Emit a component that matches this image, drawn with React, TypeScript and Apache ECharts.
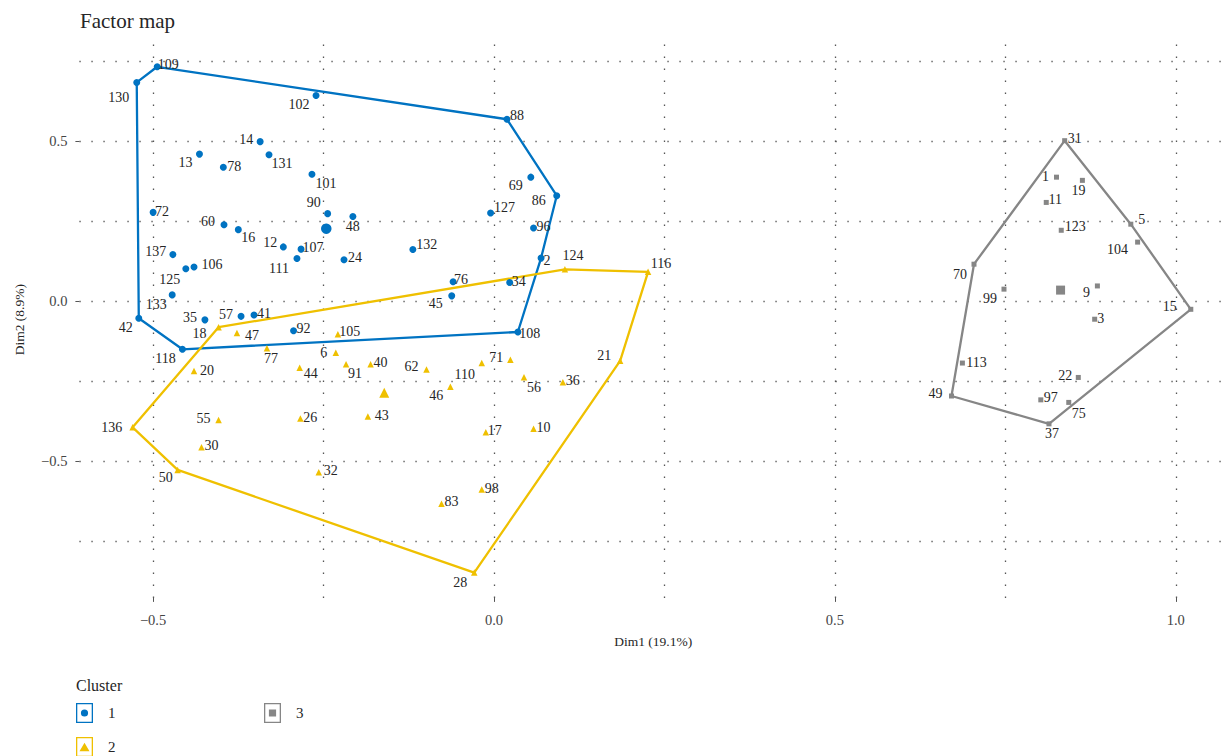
import React, { useEffect, useRef } from "react";
import * as echarts from "echarts";

// ---- Individuals on the first factorial plane, grouped by cluster ----
const cluster1Ids = ["130", "109", "102", "14", "13", "131", "78", "101", "72", "60", "16", "90", "48", "12", "107", "111", "24", "137", "125", "106", "133", "35", "57", "41", "92", "42", "118", "88", "69", "86", "127", "96", "132", "2", "76", "34", "45", "108"];
const cluster1Dim1 = [-0.524, -0.494, -0.261, -0.343, -0.432, -0.330, -0.397, -0.267, -0.500, -0.396, -0.375, -0.244, -0.207, -0.309, -0.283, -0.289, -0.220, -0.471, -0.452, -0.440, -0.472, -0.424, -0.371, -0.352, -0.294, -0.521, -0.457, 0.019, 0.054, 0.092, -0.005, 0.058, -0.119, 0.069, -0.060, 0.023, -0.062, 0.035];
const cluster1Dim2 = [0.684, 0.733, 0.643, 0.499, 0.460, 0.458, 0.419, 0.397, 0.278, 0.239, 0.224, 0.274, 0.265, 0.170, 0.163, 0.134, 0.130, 0.146, 0.102, 0.107, 0.020, -0.058, -0.047, -0.043, -0.092, -0.053, -0.150, 0.569, 0.388, 0.330, 0.276, 0.229, 0.162, 0.135, 0.061, 0.059, 0.017, -0.096];

const cluster2Ids = ["18", "47", "77", "105", "6", "20", "44", "91", "40", "136", "55", "26", "43", "30", "50", "32", "124", "116", "21", "62", "46", "110", "71", "56", "36", "17", "10", "98", "83", "28"];
const cluster2Dim1 = [-0.404, -0.377, -0.333, -0.229, -0.232, -0.440, -0.285, -0.217, -0.181, -0.530, -0.404, -0.284, -0.185, -0.429, -0.464, -0.257, 0.104, 0.226, 0.185, -0.099, -0.064, -0.018, 0.024, 0.044, 0.101, -0.012, 0.058, -0.018, -0.077, -0.029];
const cluster2Dim2 = [-0.081, -0.099, -0.147, -0.103, -0.161, -0.218, -0.208, -0.197, -0.197, -0.394, -0.371, -0.366, -0.360, -0.456, -0.527, -0.534, 0.100, 0.092, -0.186, -0.213, -0.267, -0.193, -0.183, -0.237, -0.253, -0.409, -0.398, -0.588, -0.633, -0.848];

const cluster3Ids = ["31", "1", "19", "11", "123", "5", "104", "70", "99", "9", "15", "3", "113", "22", "49", "97", "75", "37"];
const cluster3Dim1 = [0.837, 0.825, 0.863, 0.810, 0.832, 0.934, 0.944, 0.704, 0.748, 0.885, 1.022, 0.881, 0.687, 0.857, 0.671, 0.802, 0.843, 0.814];
const cluster3Dim2 = [0.502, 0.388, 0.378, 0.309, 0.222, 0.241, 0.185, 0.116, 0.038, 0.048, -0.025, -0.056, -0.193, -0.238, -0.296, -0.308, -0.316, -0.383];

// Cluster centres
const centerDim1 = [-0.246, -0.161, 0.831];
const centerDim2 = [0.227, -0.286, 0.035];

const clusterNames = ["1", "2", "3"];
const clusterColors = ["#0073C2", "#EFC000", "#868686"];

// Axis ticks and the dotted reference grid
const xTickValues = [-0.5, 0, 0.5, 1.0];
const yTickValues = [-0.5, 0, 0.5];
const xGridValues = [-0.5, -0.25, 0, 0.25, 0.5, 0.75, 1.0];
const yGridValues = [-0.75, -0.5, -0.25, 0, 0.25, 0.5, 0.75];

// ---- Layout / styling ----
const FONT = "Liberation Serif";
const X_MIN = -0.6081;
const X_MAX = 1.0751;
const Y_MIN = -0.927;
const Y_MAX = 0.812;

// Text placement of each point label relative to its marker, in pixels
const labelNudge: Record<string, [number, number]> = {
  "130": [-18, 15], "109": [11, -2], "102": [-17, 9], "14": [-14, -2], "13": [-14, 8],
  "131": [13, 9], "78": [11, -1], "101": [14, 9], "72": [9, -1], "60": [-16, -3],
  "16": [10, 8], "90": [-14, -11], "48": [0, 10], "12": [-13, -4], "107": [12, -2],
  "111": [-18, 10], "24": [11, -2], "137": [-17, -3], "125": [-16, 11], "106": [18, -3],
  "133": [-16, 10], "35": [-15, -2], "57": [-15, -2], "41": [10, -2], "92": [10, -2],
  "42": [-13, 9], "118": [-17, 9], "88": [10, -4], "69": [-15, 8], "86": [-18, 5],
  "127": [14, -5], "96": [10, -2], "132": [14, -5], "2": [6, 2], "76": [8, -2],
  "34": [9, -1], "45": [-16, 8], "108": [12, 1],
  "18": [-19, 6], "47": [15, 3], "77": [4, 10], "105": [12, -3], "6": [-12, 0],
  "20": [13, -1], "44": [11, 6], "91": [9, 9], "40": [10, -2], "136": [-21, 0],
  "55": [-15, -2], "26": [10, -1], "43": [14, -1], "30": [10, -2], "50": [-12, 8],
  "32": [12, -2], "124": [8, -14], "116": [13, -8], "21": [-16, -5], "62": [-15, -3],
  "46": [-14, 9], "110": [-17, 11], "71": [-14, -2], "56": [10, 10], "36": [10, -2],
  "17": [9, -2], "10": [10, -1], "98": [10, -1], "83": [10, -2], "28": [-14, 10],
  "31": [10, -2], "1": [-11, -1], "19": [-4, 10], "11": [9, -3], "123": [14, -4],
  "5": [11, -5], "104": [-20, 7], "70": [-14, 10], "99": [-14, 9], "9": [-11, 7],
  "15": [-21, -3], "3": [6, -1], "113": [14, -1], "22": [-13, -2], "49": [-16, -3],
  "97": [10, -2], "75": [10, 11], "37": [3, 10],
};

const markerShape = ["circle", "triangle", "rect"];
const markerSize = [7, 6.5, 5];
const centerSize = [10.5, 10, 9];

// Legend keys: framed box with the cluster's marker inside
const legendIcons = [
  "path://M0,0H85V100H0ZM6.5,6.5V93.5H78.5V6.5ZM42.5,32A18,18,0,1,1,42.5,68A18,18,0,1,1,42.5,32Z",
  "path://M0,0H85V100H0ZM6.5,6.5V93.5H78.5V6.5ZM42.5,29L67.5,71L17.5,71Z",
  "path://M0,0H85V100H0ZM6.5,6.5V93.5H78.5V6.5ZM24.5,32H60.5V68H24.5Z",
];
const legendSpots = [
  { left: 76, top: 703 },
  { left: 76, top: 737 },
  { left: 264, top: 703 },
];

function convexHull(points: number[][]): number[][] {
  const p = points.slice().sort((a, b) => a[0] - b[0] || a[1] - b[1]);
  const cross = (o: number[], a: number[], b: number[]) =>
    (a[0] - o[0]) * (b[1] - o[1]) - (a[1] - o[1]) * (b[0] - o[0]);
  const lower: number[][] = [];
  for (const q of p) {
    while (lower.length >= 2 && cross(lower[lower.length - 2], lower[lower.length - 1], q) <= 0) lower.pop();
    lower.push(q);
  }
  const upper: number[][] = [];
  for (let i = p.length - 1; i >= 0; i--) {
    const q = p[i];
    while (upper.length >= 2 && cross(upper[upper.length - 2], upper[upper.length - 1], q) <= 0) upper.pop();
    upper.push(q);
  }
  upper.pop();
  lower.pop();
  return lower.concat(upper);
}

const fmtTick = (v: number) => (v < 0 ? "\u2212" : "") + Math.abs(v).toFixed(1);

function buildOption() {
  const clusters = [
    { ids: cluster1Ids, d1: cluster1Dim1, d2: cluster1Dim2 },
    { ids: cluster2Ids, d1: cluster2Dim1, d2: cluster2Dim2 },
    { ids: cluster3Ids, d1: cluster3Dim1, d2: cluster3Dim2 },
  ];

  const series: any[] = [];

  // dotted reference lines
  series.push({
    type: "scatter",
    name: "grid",
    data: [],
    silent: true,
    markLine: {
      silent: true,
      z: 1,
      symbol: ["none", "none"],
      label: { show: false },
      emphasis: { disabled: true },
      lineStyle: { color: "#555", width: 1.3, type: [1.3, 10.7], opacity: 1 },
      data: [
        ...xGridValues.map((v) => ({ xAxis: v })),
        ...yGridValues.map((v) => ({ yAxis: v })),
      ],
    },
  });

  clusters.forEach((c, k) => {
    const pts = c.ids.map((_, i) => [c.d1[i], c.d2[i]]);
    const hull = convexHull(pts);
    series.push({
      type: "line",
      name: clusterNames[k],
      data: hull.concat([hull[0]]),
      symbol: "none",
      silent: true,
      z: 2,
      lineStyle: { color: clusterColors[k], width: 2.3 },
      itemStyle: { color: clusterColors[k] },
    });
  });

  clusters.forEach((c, k) => {
    const data: any[] = c.ids.map((id, i) => ({
      name: id,
      value: [c.d1[i], c.d2[i]],
    }));
    data.push({
      name: "",
      value: [centerDim1[k], centerDim2[k]],
      symbolSize: centerSize[k],
      label: { show: false },
    });
    series.push({
      type: "scatter",
      name: clusterNames[k],
      symbol: markerShape[k],
      symbolSize: markerSize[k],
      z: 3,
      silent: true,
      itemStyle: { color: clusterColors[k], opacity: 1 },
      label: {
        show: true,
        formatter: "{b}",
        position: "inside",
        align: "center",
        verticalAlign: "middle",
        fontFamily: FONT,
        fontSize: 14,
        color: "#262626",
      },
      labelLayout: (p: any) => {
        const id = c.ids[p.dataIndex];
        const n = id !== undefined ? labelNudge[id] : undefined;
        return n ? { dx: n[0], dy: n[1], hideOverlap: false } : {};
      },
      data,
    });
  });

  const legendText = {
    fontFamily: FONT,
    fontSize: 15,
    color: "#262626",
    padding: [0, 0, 0, 10],
  };

  return {
    animation: false,
    textStyle: { fontFamily: FONT },
    title: [
      {
        text: "Factor map",
        left: 80,
        top: 10.5,
        padding: 0,
        textStyle: { fontFamily: FONT, fontSize: 21, fontWeight: "normal", color: "#262626" },
      },
      {
        text: "Cluster",
        left: 76,
        top: 677.5,
        padding: 0,
        textStyle: { fontFamily: FONT, fontSize: 16, fontWeight: "normal", color: "#262626" },
      },
    ],
    legend: clusterNames.map((name, k) => ({
      data: [{ name, icon: legendIcons[k] }],
      orient: "vertical",
      left: legendSpots[k].left,
      top: legendSpots[k].top,
      padding: 0,
      itemWidth: 17,
      itemHeight: 20,
      selectedMode: false,
      textStyle: legendText,
    })),
    grid: {
      left: 79.4,
      top: 41.5,
      width: 1147.6,
      height: 556.4,
      containLabel: false,
      outerBoundsMode: "none",
    },
    xAxis: {
      type: "value",
      min: X_MIN,
      max: X_MAX,
      axisLine: { show: false, onZero: false },
      axisTick: { show: true, customValues: xTickValues, length: 4, lineStyle: { color: "#555" } },
      axisLabel: {
        customValues: xTickValues,
        formatter: fmtTick,
        margin: 15,
        fontFamily: FONT,
        fontSize: 14.5,
        color: "#444",
      },
      splitLine: { show: false },
      name: "Dim1 (19.1%)",
      nameLocation: "middle",
      nameGap: 37,
      nameTextStyle: { fontFamily: FONT, fontSize: 13.5, color: "#262626" },
    },
    yAxis: {
      type: "value",
      min: Y_MIN,
      max: Y_MAX,
      axisLine: { show: false, onZero: false },
      axisTick: { show: true, customValues: yTickValues, length: 4, lineStyle: { color: "#555" } },
      axisLabel: {
        customValues: yTickValues,
        formatter: fmtTick,
        margin: 12,
        fontFamily: FONT,
        fontSize: 14.5,
        color: "#444",
      },
      splitLine: { show: false },
      name: "Dim2 (8.9%)",
      nameLocation: "middle",
      nameGap: 53,
      nameTextStyle: { fontFamily: FONT, fontSize: 13.5, color: "#262626" },
    },
    series,
  };
}

export default function App() {
  const ref = useRef<HTMLDivElement>(null);
  useEffect(() => {
    document.body.style.margin = "0";
    document.body.style.overflow = "hidden";
    if (!ref.current) return;
    const chart = echarts.init(ref.current, undefined, { renderer: "svg" });
    chart.setOption(buildOption() as any);
    return () => chart.dispose();
  }, []);
  return <div ref={ref} style={{ width: 1227, height: 756, background: "#fff" }} />;
}
